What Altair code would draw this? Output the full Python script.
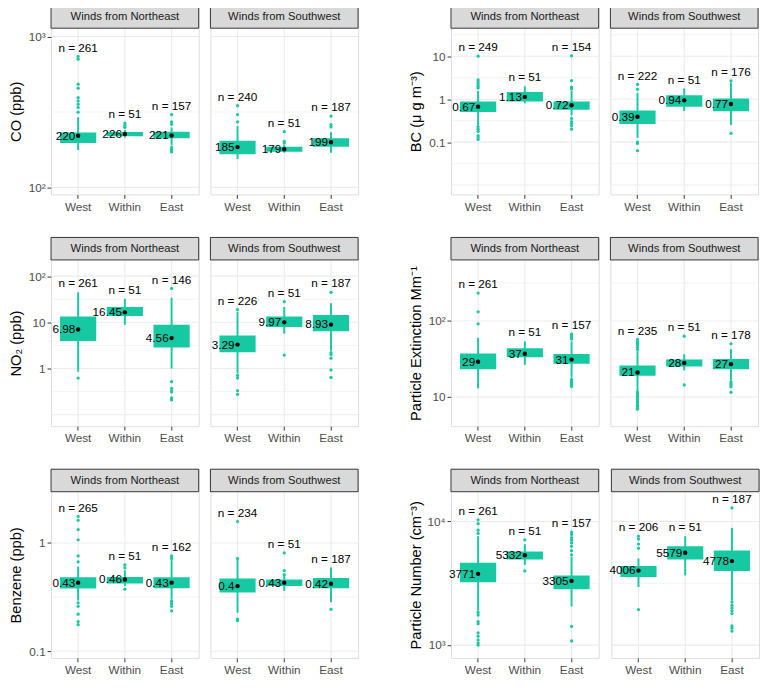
import altair as alt
import pandas as pd

SITES = ["West", "Within", "East"]
WINDS = ["Winds from Northeast", "Winds from Southwest"]
# order of the 6 groups: NE West, NE Within, NE East, SW West, SW Within, SW East
GROUP_WIND = [WINDS[0]] * 3 + [WINDS[1]] * 3
GROUP_SITE = SITES * 2

# ---------------- CO ----------------
CO_LOW = [177, 214, 190, 154, 170, 170]
CO_Q1 = [197, 218, 212, 166, 172, 186]
CO_MED = [220, 226, 221, 185, 179, 199]
CO_Q3 = [231, 233, 234, 204, 186, 212]
CO_HIGH = [292, 240, 250, 255, 192, 232]
CO_N = [261, 51, 157, 240, 51, 187]
CO_OUT = [[738, 708, 483, 455, 393, 374, 356, 339, 315],
          [267, 258, 250],
          [304, 272, 262, 184, 177, 172],
          [348, 304, 272],
          [234, 202, 197],
          [297, 261, 252]]

# ---------------- BC ----------------
BC_LOW = [0.25, 0.80, 0.42, 0.125, 0.53, 0.25]
BC_Q1 = [0.50, 0.885, 0.565, 0.264, 0.67, 0.52]
BC_MED = [0.67, 1.13, 0.72, 0.39, 0.94, 0.77]
BC_Q3 = [0.885, 1.46, 0.885, 0.546, 1.23, 1.03]
BC_HIGH = [1.55, 2.0, 1.55, 1.41, 1.78, 2.45]
BC_N = [249, 51, 154, 222, 51, 176]
BC_OUT = [[10, 2.8, 2.5, 2.25, 2.0, 1.83, 0.23, 0.20, 0.177, 0.141, 0.126, 0.115],
          [],
          [10.2, 2.7, 1.9, 1.72, 0.355, 0.30, 0.27, 0.24, 0.20],
          [2.2, 1.7, 0.10, 0.093, 0.063],
          [],
          [2.68, 0.16]]

# ---------------- NO2 ----------------
NO2_LOW = [0.85, 8.85, 1.0, 0.78, 5.7, 2.43]
NO2_Q1 = [3.95, 13.7, 2.86, 2.24, 7.9, 6.4]
NO2_MED = [6.98, 16.45, 4.56, 3.29, 9.97, 8.93]
NO2_Q3 = [13.3, 21.5, 8.85, 5.2, 13.3, 14.4]
NO2_HIGH = [44.6, 32.3, 34, 17, 21.5, 26]
NO2_N = [261, 51, 146, 226, 51, 187]
NO2_OUT = [[0.62],
           [],
           [54, 0.52, 0.37, 0.33, 0.31, 0.23, 0.21],
           [18.9, 0.71, 0.62, 0.33, 0.275],
           [27.9, 1.95],
           [44.6, 2.2, 2.0, 1.67, 0.93, 0.64]]

# ---------------- Particle extinction ----------------
PE_LOW = [13.0, 26.5, 18.0, 12.0, 22.4, 16.5]
PE_Q1 = [23.1, 33.2, 27.3, 19.0, 25.2, 23.1]
PE_MED = [29, 37, 31, 21, 28, 27]
PE_Q3 = [37.4, 43.8, 36.6, 26.0, 31.0, 31.6]
PE_HIGH = [60, 54, 54, 40, 36.6, 42.5]
PE_N = [261, 51, 157, 235, 51, 178]
PE_OUT = [[233, 132, 91.5],
          [],
          [67, 64, 61, 58, 17.0, 16.3, 15.6, 15.0, 14.3, 13.7],
          [57, 54, 51, 48, 45, 42, 11.6, 11.0, 10.4, 9.8, 9.3, 8.8, 8.3, 7.8, 7.4, 7.1, 6.9],
          [63, 14.4],
          [50, 15.8, 15.0, 14.3, 13.6, 11.5]]

# ---------------- Benzene ----------------
BZ_LOW = [0.294, 0.40, 0.30, 0.227, 0.36, 0.284]
BZ_Q1 = [0.379, 0.423, 0.382, 0.349, 0.40, 0.382]
BZ_MED = [0.43, 0.46, 0.43, 0.4, 0.43, 0.42]
BZ_Q3 = [0.483, 0.486, 0.483, 0.47, 0.46, 0.476]
BZ_HIGH = [0.605, 0.56, 0.695, 0.70, 0.50, 0.593]
BZ_N = [265, 51, 162, 234, 51, 187]
BZ_OUT = [[1.76, 1.62, 1.33, 1.07, 0.76, 0.67, 0.28, 0.26, 0.22, 0.188, 0.176],
          [0.627, 0.59, 0.374],
          [0.76, 0.72, 0.29, 0.275, 0.26, 0.236],
          [1.58, 0.72, 0.198, 0.192],
          [0.81, 0.557, 0.51],
          [0.244]]

# ---------------- Particle number ----------------
PN_LOW = [1900, 4450, 2056, 2950, 3660, 2290]
PN_Q1 = [3230, 4920, 2830, 3556, 4920, 3980]
PN_MED = [3771, 5332, 3305, 4006, 5579, 4778]
PN_Q3 = [4640, 5716, 3660, 4365, 6300, 5820]
PN_HIGH = [7600, 6560, 5160, 5010, 7600, 8870]
PN_N = [261, 51, 157, 206, 51, 187]
PN_OUT = [[10300, 9600, 8500, 8000, 1836, 1750, 1550, 1490, 1256, 1180, 1100, 1040, 1000],
          [7100, 3980],
          [8200, 7850, 7400, 7050, 6700, 6300, 5800, 5360, 1416, 1080],
          [7600, 7200, 6560, 6080, 1936],
          [],
          [12870, 2230, 2100, 2000, 1900, 1800, 1430, 1370, 1300]]

# axis settings (y domain, labelled ticks, grid lines)
PANELS = [
    dict(title="CO (ppb)", low=CO_LOW, q1=CO_Q1, med=CO_MED, q3=CO_Q3, high=CO_HIGH, n=CO_N, out=CO_OUT,
         domain=[89.8, 1137], ticks=[100, 1000], labels=["10²", "10³"],
         major=[100, 1000], minor=[316.2]),
    dict(title="BC (μ  g m⁻³)", low=BC_LOW, q1=BC_Q1, med=BC_MED, q3=BC_Q3, high=BC_HIGH, n=BC_N, out=BC_OUT,
         domain=[0.00605, 45], ticks=[0.1, 1, 10], labels=["0.1", "1", "10"],
         major=[0.01, 0.1, 1, 10], minor=[0.03162, 0.3162, 3.162, 31.62]),
    dict(title="NO₂ (ppb)", low=NO2_LOW, q1=NO2_Q1, med=NO2_MED, q3=NO2_Q3, high=NO2_HIGH, n=NO2_N, out=NO2_OUT,
         domain=[0.0564, 224], ticks=[1, 10, 100], labels=["1", "10", "10²"],
         major=[0.1, 1, 10, 100], minor=[0.3162, 3.162, 31.62]),
    dict(title="Particle Extinction Mm⁻¹", low=PE_LOW, q1=PE_Q1, med=PE_MED, q3=PE_Q3, high=PE_HIGH, n=PE_N, out=PE_OUT,
         domain=[4.12, 635], ticks=[10, 100], labels=["10", "10²"],
         major=[10, 100], minor=[31.62, 316.2]),
    dict(title="Benzene (ppb)", low=BZ_LOW, q1=BZ_Q1, med=BZ_MED, q3=BZ_Q3, high=BZ_HIGH, n=BZ_N, out=BZ_OUT,
         domain=[0.0866, 2.98], ticks=[0.1, 1], labels=["0.1", "1"],
         major=[0.1, 1], minor=[0.3162]),
    dict(title="Particle Number (cm⁻³)", low=PN_LOW, q1=PN_Q1, med=PN_MED, q3=PN_Q3, high=PN_HIGH, n=PN_N, out=PN_OUT,
         domain=[787, 17400], ticks=[1000, 10000], labels=["10³", "10⁴"],
         major=[1000, 10000], minor=[3162]),
]

TEAL = "#17C9A3"
W = 151
HEAD = 23
H = 170
TOT = HEAD + H
FONT = "Liberation Sans"


def fmt(v):
    return f"{v:g}"


def label_expr(ticks, labels):
    expr = "''"
    for t, l in reversed(list(zip(ticks, labels))):
        expr = f"(abs(datum.value - {t}) < {t * 1e-6}) ? '{l}' : ({expr})"
    return expr


def facet(p, wi, show_y):
    idx = [i for i in range(6) if GROUP_WIND[i] == WINDS[wi]]
    box = pd.DataFrame({
        "site": [GROUP_SITE[i] for i in idx],
        "low": [p["low"][i] for i in idx],
        "q1": [p["q1"][i] for i in idx],
        "med": [p["med"][i] for i in idx],
        "q3": [p["q3"][i] for i in idx],
        "high": [p["high"][i] for i in idx],
        "label": [fmt(p["med"][i]) for i in idx],
        "ntext": [f"n = {p['n'][i]}" for i in idx],
        "top": [max([p["high"][i]] + list(p["out"][i])) for i in idx],
    })
    out = pd.DataFrame({
        "site": [GROUP_SITE[i] for i in idx for _ in p["out"][i]],
        "v": [v for i in idx for v in p["out"][i]],
    })
    major = pd.DataFrame({"g": p["major"]})
    minor = pd.DataFrame({"g": p["minor"]})
    sites = pd.DataFrame({"site": SITES})
    head = pd.DataFrame({"t": [WINDS[wi]]})

    xs = alt.Scale(domain=SITES, paddingInner=0, paddingOuter=0.08)
    xaxis = alt.Axis(labelAngle=0, labelFontSize=12, labelColor="#4d4d4d", labelFont=FONT,
                     tickColor="#333333", tickSize=4, tickWidth=1, labelPadding=3,
                     domain=False, grid=False, title=None)

    def X():
        return alt.X("site:N", scale=xs, axis=xaxis, title=None)

    ys = alt.Scale(type="log", domain=p["domain"], range=[TOT, HEAD], nice=False)
    if show_y:
        yaxis = alt.Axis(values=p["ticks"], labelExpr=label_expr(p["ticks"], p["labels"]),
                         labelFontSize=12, labelColor="#4d4d4d", labelFont=FONT,
                         tickColor="#333333", tickSize=4, tickWidth=1, labelPadding=2,
                         domain=False, grid=False, title=p["title"], titleFontSize=15,
                         titleFont=FONT, titleFontWeight="normal", titleColor="black",
                         titlePadding=5, minExtent=23, maxExtent=23)
    else:
        yaxis = None

    def Y(f):
        return alt.Y(f"{f}:Q", scale=ys, axis=yaxis)

    layers = [
        alt.Chart(minor).mark_rule(color="#ececec", strokeWidth=0.6).encode(y=Y("g")),
        alt.Chart(major).mark_rule(color="#ebebeb", strokeWidth=1.1).encode(y=Y("g")),
        alt.Chart(sites).mark_rule(color="#ebebeb", strokeWidth=1.1).encode(
            x=X(), y=alt.value(HEAD), y2=alt.value(TOT)),
        alt.Chart(box).mark_rule(color=TEAL, strokeWidth=2).encode(
            x=X(), y=Y("low"), y2=alt.Y2("high")),
        alt.Chart(box).mark_bar(color=TEAL, size=37, cornerRadius=0).encode(
            x=X(), y=Y("q1"), y2=alt.Y2("q3")),
        alt.Chart(out).mark_circle(color=TEAL, size=11, opacity=1).encode(x=X(), y=Y("v")),
        alt.Chart(box).mark_circle(color="black", size=20, opacity=1).encode(x=X(), y=Y("med")),
        alt.Chart(box).mark_text(align="right", baseline="middle", dx=-3, fontSize=12,
                                 font=FONT, color="black").encode(x=X(), y=Y("med"), text="label:N"),
        alt.Chart(box).mark_text(align="center", baseline="middle", dy=-9, fontSize=12,
                                 font=FONT, color="black").encode(x=X(), y=Y("top"), text="ntext:N"),
        alt.Chart(head).mark_rect(fill="#d9d9d9", stroke="#333333", strokeWidth=1).encode(
            x=alt.value(0), x2=alt.value(W), y=alt.value(0), y2=alt.value(HEAD)),
        alt.Chart(head).mark_text(align="center", baseline="middle", fontSize=11.5, font=FONT,
                                  color="#1a1a1a").encode(
            x=alt.value(W / 2), y=alt.value(HEAD / 2 + 0.5), text="t:N"),
    ]
    return alt.layer(*layers).properties(width=W, height=TOT)


def panel(p):
    return alt.hconcat(facet(p, 0, True), facet(p, 1, False), spacing=8).resolve_scale(
        x="independent", y="independent")


left = alt.vconcat(panel(PANELS[0]), panel(PANELS[2]), panel(PANELS[4]), spacing=24).resolve_scale(
    x="independent", y="independent")
right = alt.vconcat(panel(PANELS[1]), panel(PANELS[3]), panel(PANELS[5]), spacing=24).resolve_scale(
    x="independent", y="independent")

chart = alt.hconcat(left, right, spacing=49).resolve_scale(
    x="independent", y="independent").properties(
    padding={"left": 0, "top": -11, "right": 0, "bottom": 0}
).configure_view(stroke="#333333", strokeWidth=1).configure(font=FONT, background="white")

chart.save("out.html", embed_options={"renderer": "svg", "actions": False})
